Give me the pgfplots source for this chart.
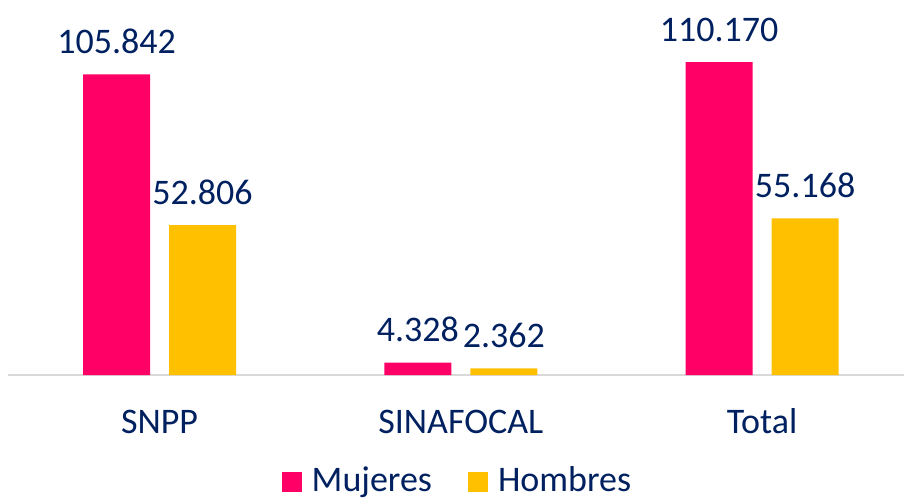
\documentclass[border=0pt]{standalone}
\usepackage{pgfplots}
\pgfplotsset{compat=1.18}
\usepackage{fontspec}
\setmainfont{Carlito}
\definecolor{mpink}{HTML}{FF0066}
\definecolor{mgold}{HTML}{FFC000}
\definecolor{navy}{HTML}{002060}
\definecolor{axgray}{HTML}{D9D9D9}
\begin{document}
\begin{tikzpicture}
\begin{axis}[
  name=ax,
  at={(8pt,128pt)}, anchor=south west,
  scale only axis,
  width=896pt, height=340.8pt,
  xmin=-0.503, xmax=2.471,
  ymin=0, ymax=120000,
  axis x line*=bottom,
  axis y line=none,
  x axis line style={draw=axgray, line width=2pt},
  xtick={0,1,2},
  xticklabels={SNPP,SINAFOCAL,Total},
  major tick length=0pt,
  ytick=\empty,
  xticklabel style={anchor=base, yshift=-58pt, font=\fontsize{36}{40}\selectfont, text=navy},
  ybar=19pt, bar width=67pt,
  clip=false,
  nodes near coords,
  point meta=explicit symbolic,
  every node near coord/.append style={anchor=base, yshift=21pt, font=\fontsize{36}{40}\selectfont, text=navy},
  legend columns=2,
  legend style={at={(0.5005,-0.269)}, anchor=north, draw=none, fill=none, inner sep=0pt,
    column sep=10pt,
    nodes={inner sep=0pt, text=navy, font=\fontsize{36}{40}\selectfont},
    /tikz/every even column/.append style={column sep=36pt}},
  legend image code/.code={\fill[#1] (0pt,-12pt) rectangle (20pt,8pt);},
]
\addplot[fill=mpink, draw=none] coordinates {(0,105842)[105.842] (1,4328)[4.328] (2,110170)[110.170]};
\addplot[fill=mgold, draw=none] coordinates {(0,52806)[52.806] (1,2362)[2.362] (2,55168)[55.168]};
\legend{Mujeres,Hombres}
\end{axis}
\pgfresetboundingbox
\path (0,0) rectangle (904pt,503pt);
\end{tikzpicture}
\end{document}
